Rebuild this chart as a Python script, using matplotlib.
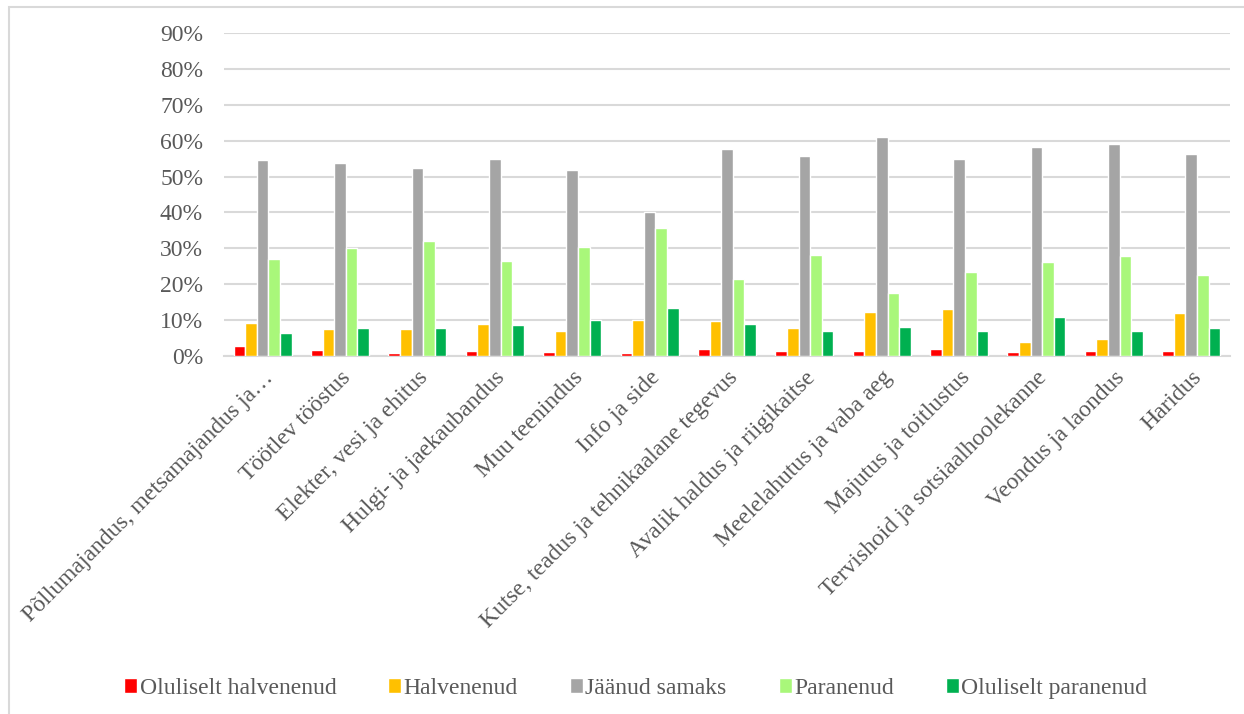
import numpy as np
import matplotlib.pyplot as plt
from matplotlib.patches import Rectangle
from matplotlib.ticker import FuncFormatter

plt.rcParams['font.family'] = ['Liberation Serif', 'DejaVu Serif']

# Tegevusalad
valdkonnad = [
    'Põllumajandus, metsamajandus ja…',
    'Töötlev tööstus',
    'Elekter, vesi ja ehitus',
    'Hulgi- ja jaekaubandus',
    'Muu teenindus',
    'Info ja side',
    'Kutse, teadus ja tehnikaalane tegevus',
    'Avalik haldus ja riigikaitse',
    'Meelelahutus ja vaba aeg',
    'Majutus ja toitlustus',
    'Tervishoid ja sotsiaalhoolekanne',
    'Veondus ja laondus',
    'Haridus',
]

# Osakaalud protsentides
oluliselt_halvenenud = [2.8, 1.7, 0.7, 1.4, 1.1, 0.7, 1.9, 1.4, 1.4, 1.9, 1.0, 1.4, 1.4]
halvenenud = [9.3, 7.4, 7.4, 8.9, 6.9, 10.0, 9.7, 7.7, 12.3, 13.2, 3.9, 4.7, 12.1]
jaanud_samaks = [54.6, 53.8, 52.3, 54.9, 51.7, 40.1, 57.7, 55.8, 61.0, 54.9, 58.1, 59.2, 56.4]
paranenud = [27.1, 30.1, 32.0, 26.5, 30.5, 35.7, 21.5, 28.2, 17.5, 23.3, 26.2, 27.9, 22.7]
oluliselt_paranenud = [6.3, 7.7, 7.7, 8.5, 10.0, 13.5, 8.9, 6.9, 8.0, 6.9, 10.8, 6.9, 7.7]

seeriad = [
    ('Oluliselt halvenenud', oluliselt_halvenenud, '#FF0000'),
    ('Halvenenud', halvenenud, '#FFC000'),
    ('Jäänud samaks', jaanud_samaks, '#A5A5A5'),
    ('Paranenud', paranenud, '#A9F77A'),
    ('Oluliselt paranenud', oluliselt_paranenud, '#00B050'),
]

tekst = '#595959'
ruudustik = '#D9D9D9'

fig = plt.figure(figsize=(12.44, 7.14), dpi=100)
ax = fig.add_axes([0.180, 0.5014, 0.8087, 0.4524])

# diagrammi raam
fig.patches.append(Rectangle((0.0075, -0.05), 1.05, 1.04, transform=fig.transFigure,
                             fill=False, edgecolor=ruudustik, linewidth=1.5))

x = np.arange(len(valdkonnad))
samm = 0.15
for i, (nimi, vaartused, varv) in enumerate(seeriad):
    ax.bar(x + (i - 2) * samm, np.array(vaartused) / 100, width=samm,
           color=varv, edgecolor='white', linewidth=1.0, label=nimi, zorder=3)

ax.set_xlim(-0.5, len(valdkonnad) - 0.5)
ax.set_ylim(0, 0.9)
ax.set_yticks(np.arange(0, 0.91, 0.1))
ax.yaxis.set_major_formatter(FuncFormatter(lambda v, _: f'{v * 100:.0f}%'))
ax.grid(axis='y', color=ruudustik, linewidth=1.5, zorder=0)
for s in ['top', 'right', 'left']:
    ax.spines[s].set_visible(False)
ax.spines['bottom'].set_color(ruudustik)
ax.spines['bottom'].set_linewidth(1.5)
ax.tick_params(axis='both', length=0, colors=tekst, labelsize=17)
ax.tick_params(axis='y', pad=15)
ax.tick_params(axis='x', pad=8)

ax.set_xticks(x)
ax.set_xticklabels(valdkonnad, rotation=45, ha='right', rotation_mode='anchor')

fig.legend(loc='center', bbox_to_anchor=(0.511, 0.036), ncol=5, frameon=False,
           fontsize=17, labelcolor=tekst, handlelength=0.55, handleheight=0.55,
           handletextpad=0.1, columnspacing=2.2)

fig.savefig('out.png', dpi=100)
